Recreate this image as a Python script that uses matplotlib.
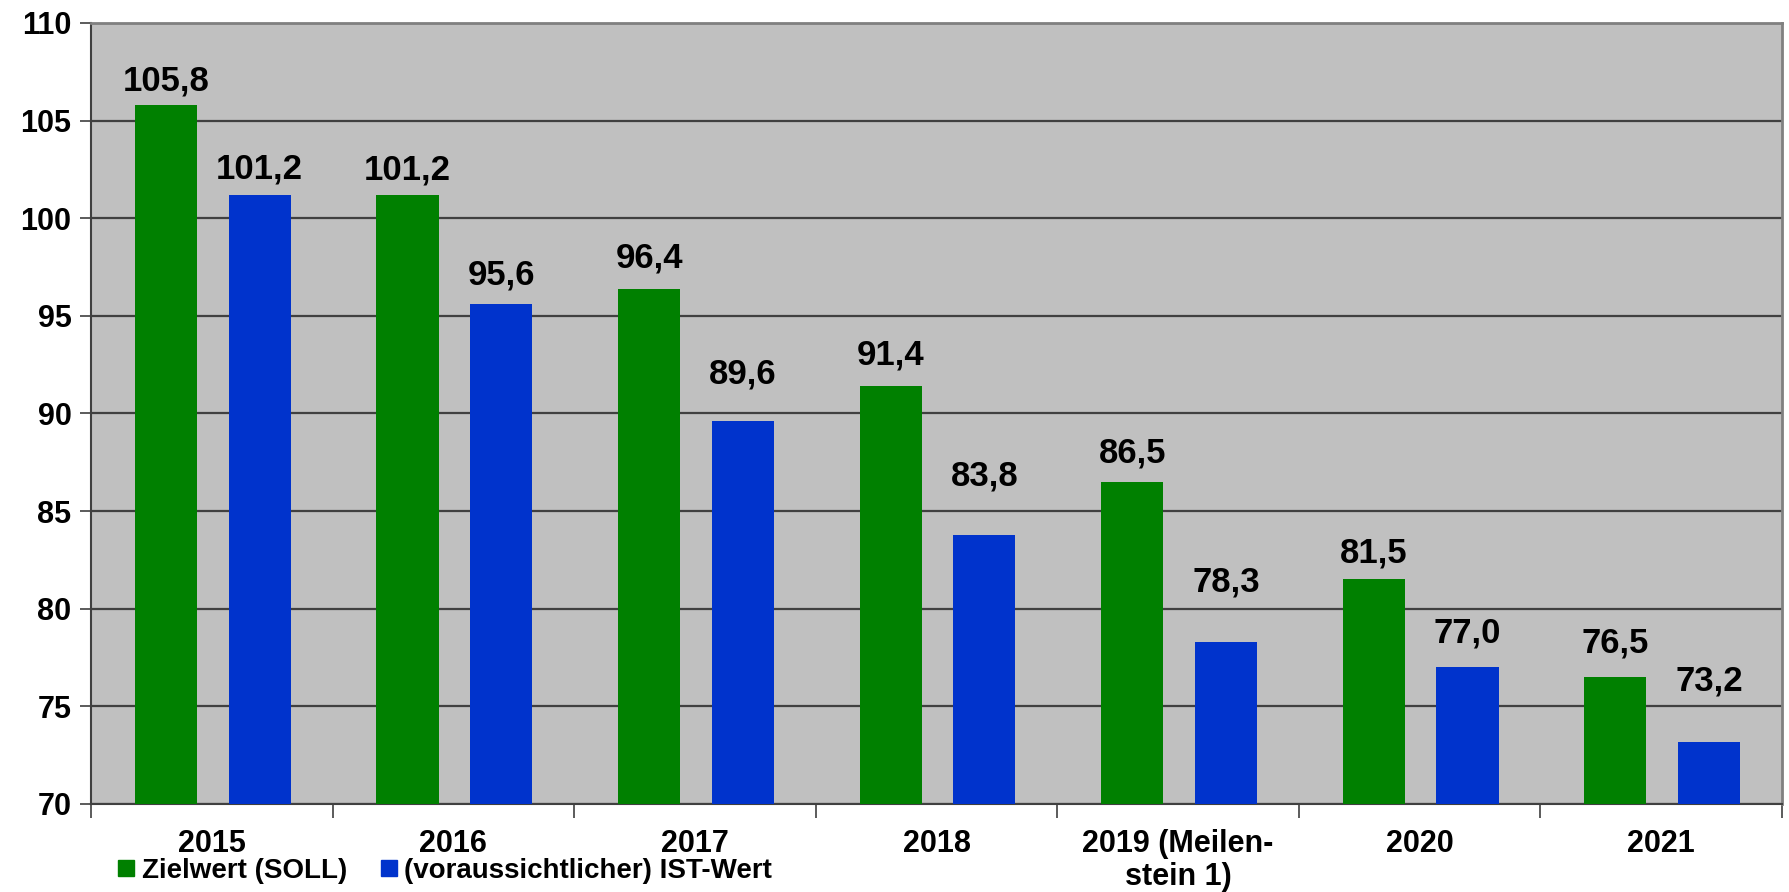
import matplotlib
matplotlib.use("Agg")
import matplotlib.pyplot as plt
from matplotlib.lines import Line2D
import numpy as np

plt.rcParams['font.family'] = ['Liberation Sans', 'DejaVu Sans']
plt.rcParams['font.weight'] = 'bold'

categories = ["2015", "2016", "2017", "2018", "2019 (Meilen-\nstein 1)", "2020", "2021"]
soll = [105.8, 101.2, 96.4, 91.4, 86.5, 81.5, 76.5]
ist = [101.2, 95.6, 89.6, 83.8, 78.3, 77.0, 73.2]
series_names = ["Zielwert (SOLL)", "(voraussichtlicher) IST-Wert"]
yticks = [70, 75, 80, 85, 90, 95, 100, 105, 110]

green = "#008000"
blue = "#0033CC"

# label offsets above bar tops (points), as placed in the original chart
soll_label_pad = [10.3, 11.3, 14.9, 15.6, 13.9, 12.0, 18.0]
ist_label_pad = [11.5, 14.2, 27.1, 35.3, 36.2, 17.8, 36.9]

fig = plt.figure(figsize=(17.89, 8.92), dpi=100)
ax = fig.add_axes([91/1789, 1-804/892, (1782-91)/1789, (804-23)/892])
ax.set_facecolor("#C0C0C0")

x = np.arange(len(categories))
w = 0.257
ax.bar(x - 0.19, [v - 70 for v in soll], w, bottom=70, color=green, zorder=3)
ax.bar(x + 0.198, [v - 70 for v in ist], w, bottom=70, color=blue, zorder=3)

for xs, vals, pads in ((x - 0.19, soll, soll_label_pad), (x + 0.198, ist, ist_label_pad)):
    for xi, v, p in zip(xs, vals, pads):
        ax.annotate(f"{v:.1f}".replace(".", ","), (xi, v), xytext=(0, p),
                    textcoords="offset points", ha="center", va="baseline",
                    fontsize=25, fontweight="bold", color="black", zorder=4)

ax.set_xlim(-0.5, len(categories) - 0.5)
ax.set_ylim(70, 110)
ax.set_yticks(yticks)
ax.set_yticklabels([str(t) for t in yticks], fontsize=22, fontweight="bold")
ax.yaxis.grid(True, color="#404040", linewidth=1.6, zorder=1)
ax.set_axisbelow(True)
ax.tick_params(axis="y", length=8, width=1.2, color="#404040", pad=6)

ax.set_xticks(x)
ax.set_xticklabels(categories, fontsize=22, fontweight="bold", linespacing=1.15)
ax.set_xticks(np.arange(len(categories) + 1) - 0.5, minor=True)
ax.tick_params(axis="x", which="major", length=0, pad=18)
ax.tick_params(axis="x", which="minor", length=10, width=1.2, color="#404040")

for s in ("top", "right"):
    ax.spines[s].set_color("#808080")
    ax.spines[s].set_linewidth(2)
ax.spines["left"].set_color("#404040")
ax.spines["left"].set_linewidth(1.5)
ax.spines["bottom"].set_color("#404040")
ax.spines["bottom"].set_linewidth(1.5)

handles = [Line2D([], [], marker="s", linestyle="none", color=green, markersize=11),
           Line2D([], [], marker="s", linestyle="none", color=blue, markersize=11)]
fig.legend(handles, series_names, loc="center left", bbox_to_anchor=(118/1789, 1-871/892),
           ncol=2, frameon=False, prop={"size": 20, "weight": "bold"},
           handlelength=0.6, handletextpad=0.25, columnspacing=1.2,
           borderaxespad=0, borderpad=0)

fig.savefig("out.png", dpi=100, facecolor="white")
